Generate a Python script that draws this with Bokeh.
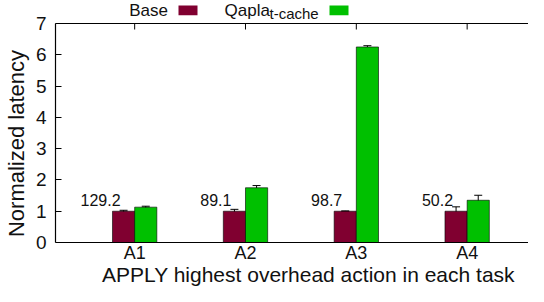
from bokeh.plotting import figure
from bokeh.models import (ColumnDataSource, Range1d, FixedTicker, Whisker, Span,
                          Label, BoxAnnotation)
from bokeh.core.properties import value
from bokeh.embed import file_html
from bokeh.resources import INLINE

categories = ["A1", "A2", "A3", "A4"]
base = [1.0, 1.0, 1.0, 1.0]
base_err = [0.03, 0.06, 0.01, 0.14]
qapla = [1.13, 1.75, 6.25, 1.35]
qapla_err = [0.03, 0.07, 0.04, 0.16]
base_abs = ["129.2", "89.1", "98.7", "50.2"]
y_ticks = [0, 1, 2, 3, 4, 5, 6, 7]
series_names = ["Base", "Qapla"]
series_sub = "t-cache"
x_title = "APPLY highest overhead action in each task"
y_title = "Normalized latency"

MAROON = "#800030"
GREEN = "#00c000"
FONT = "Liberation Sans"
INK = "#111111"
MID = 0.3465              # baseline lies this many font-sizes below a "middle" anchor

W, H = 528, 286           # figure size (page is offset by 8px margin)
LEFT = 50                 # left border
TOP_PX, BOT_PX = 23, 44   # frame pixels above y=7 / below y=0
PX = (H - TOP_PX - BOT_PX) / 7.0   # pixels per y unit
XPX = 112.0               # pixels per category

p = figure(width=W, height=H, output_backend="svg", toolbar_location=None,
           x_range=Range1d(1 - 80 / XPX, 1 + (W - LEFT - 80) / XPX),
           y_range=Range1d(-BOT_PX / PX, 7 + TOP_PX / PX),
           x_axis_type=None,
           min_border_left=LEFT, min_border_right=0, min_border_top=0,
           min_border_bottom=0)
p.outline_line_color = None
p.ygrid.visible = False

pos = [i + 1 for i in range(len(categories))]
xb = [p_ - 0.1 for p_ in pos]
xq = [p_ + 0.1 for p_ in pos]

src_b = ColumnDataSource(dict(x=xb, top=base,
                              lo=[v - e for v, e in zip(base, base_err)],
                              hi=[v + e for v, e in zip(base, base_err)],
                              lab=base_abs,
                              ly=[v + (6 + MID * 16) / PX for v in base]))
src_q = ColumnDataSource(dict(x=xq, top=qapla,
                              lo=[v - e for v, e in zip(qapla, qapla_err)],
                              hi=[v + e for v, e in zip(qapla, qapla_err)]))

# frame lines (bottom at 0, top at 7)
for loc in (y_ticks[0], y_ticks[-1]):
    p.add_layout(Span(location=loc, dimension="width", line_color="black",
                      line_width=1.2))

# top inward ticks
tick_src = ColumnDataSource(dict(x=pos, y0=[y_ticks[-1]] * len(pos),
                                 y1=[y_ticks[-1] - 6 / PX] * len(pos)))
p.segment(x0="x", y0="y0", x1="x", y1="y1", source=tick_src,
          line_color="black", line_width=1)

p.vbar(x="x", top="top", width=0.2, bottom=0, source=src_b,
       fill_color=MAROON, line_color="#000000", line_alpha=0.6, line_width=1)
p.vbar(x="x", top="top", width=0.2, bottom=0, source=src_q,
       fill_color=GREEN, line_color="#000000", line_alpha=0.6, line_width=1)

for s in (src_b, src_q):
    w = Whisker(base="x", lower="lo", upper="hi", source=s,
                line_color="black", line_width=1)
    w.upper_head.size = 8
    w.lower_head.size = 8
    w.upper_head.line_color = "black"
    w.lower_head.line_color = "black"
    p.add_layout(w)

p.text(x="x", y="ly", text="lab", source=src_b, text_align="right",
       text_baseline="middle", x_offset=-3,
       text_font=value(FONT), text_font_size="16px", text_color=INK)

# category labels under the axis line (baseline 16.5px below it)
cat_src = ColumnDataSource(dict(x=pos, y=[-(16.5 - MID * 18) / PX] * len(pos),
                                t=categories))
p.text(x="x", y="y", text="t", source=cat_src, text_align="center",
       text_baseline="middle", text_font=value(FONT), text_font_size="18px",
       text_color=INK)

# y axis
ya = p.yaxis[0]
ya.bounds = (y_ticks[0], y_ticks[-1])
ya.ticker = FixedTicker(ticks=y_ticks)
ya.major_tick_in = 6
ya.major_tick_out = 0
ya.minor_tick_line_color = None
ya.major_label_standoff = 9
ya.major_label_text_font = FONT
ya.major_label_text_font_size = "19px"
ya.major_label_text_color = INK
ya.axis_line_color = "black"
ya.axis_line_width = 1.2
ya.axis_label = y_title
ya.axis_label_text_font = FONT
ya.axis_label_text_font_size = "22px"
ya.axis_label_text_font_style = "normal"
ya.axis_label_text_color = INK
ya.axis_label_standoff = 4

# x title (screen units, relative to the frame); baseline 4.7px above bottom
p.add_layout(Label(x=253, y=4.7 + MID * 21, x_units="screen", y_units="screen",
                   text=x_title, text_align="center", text_baseline="middle",
                   text_font=FONT, text_font_size="21px", text_color=INK))

# legend
def lab(x, y, t, size):
    p.add_layout(Label(x=x, y=y + MID * size, x_units="screen", y_units="screen",
                       text=t, text_baseline="middle", text_font=FONT,
                       text_font_size=f"{size}px", text_color=INK))

def swatch(x0, color):
    p.add_layout(BoxAnnotation(left=x0, right=x0 + 19, bottom=271.3, top=281,
                               left_units="screen", right_units="screen",
                               bottom_units="screen", top_units="screen",
                               fill_color=color, fill_alpha=1, line_color=None,
                               level="overlay"))

lab(73.7, 270, series_names[0], 17)
swatch(123, MAROON)
lab(169, 270, series_names[1], 17)
lab(214, 267.5, series_sub, 15)
swatch(274, GREEN)

open("out.html", "w").write(file_html(p, INLINE))
